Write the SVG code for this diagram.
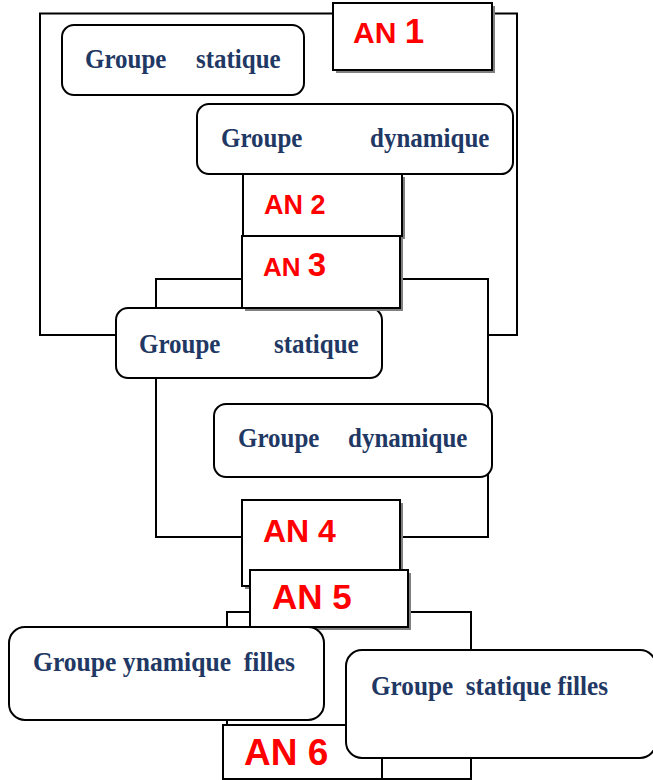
<svg xmlns="http://www.w3.org/2000/svg" width="653" height="780" viewBox="0 0 653 780">
  <style>
    .line { fill: none; stroke: #000; stroke-width: 2; }
    .grp { fill: #fff; stroke: #000; stroke-width: 2; }
    .an { fill: #fff; stroke: #000; stroke-width: 2; }
    .shadow { fill: #808080; }
    .gt { font-family: "Liberation Serif", "Times New Roman", serif; font-weight: bold; font-size: 25px; fill: #1F3864; }
    .at { font-family: "Liberation Sans", Arial, sans-serif; font-weight: bold; fill: #FF0000; }
  </style>
  <rect width="653" height="780" fill="#fff"/>

  <!-- connectors (drawn first so the boxes sit on top) -->
  <g id="connectors">
    <path class="line" d="M116,335 H40 V13.5 H517 V335 H488"/>
    <rect class="line" x="156" y="279" width="332" height="258"/>
    <rect class="line" x="227" y="612" width="244" height="167"/>
  </g>

  <!-- group labels are stretched 10% vertically around their baseline -->
  <g id="groupe-statique-1">
    <rect class="grp" x="62" y="25" width="242" height="70" rx="12"/>
    <g transform="matrix(1 0 0 1.1 0 -6.8)">
      <text class="gt" x="85" y="68">Groupe</text>
      <text class="gt" x="196" y="68">statique</text>
    </g>
  </g>

  <g id="an1">
    <rect class="shadow" x="336" y="6" width="159" height="67"/>
    <rect class="an" x="333" y="3" width="159" height="67"/>
    <text class="at" x="353" y="43"><tspan font-size="30">AN </tspan><tspan font-size="35">1</tspan></text>
  </g>

  <g id="groupe-dynamique-1">
    <rect class="grp" x="197" y="104" width="316" height="70" rx="12"/>
    <g transform="matrix(1 0 0 1.1 0 -14.7)">
      <text class="gt" x="221" y="147">Groupe</text>
      <text class="gt" x="370" y="147">dynamique</text>
    </g>
  </g>

  <g id="an2">
    <rect class="shadow" x="246" y="177" width="159" height="62"/>
    <rect class="an" x="243" y="174" width="159" height="62"/>
    <text class="at" x="264" y="214" font-size="27">AN 2</text>
  </g>

  <g id="groupe-statique-2">
    <rect class="grp" x="116" y="308" width="266" height="70" rx="12"/>
    <g transform="matrix(1 0 0 1.1 0 -35.3)">
      <text class="gt" x="139" y="353">Groupe</text>
      <text class="gt" x="274" y="353">statique</text>
    </g>
  </g>

  <g id="an3">
    <rect class="shadow" x="245" y="239" width="158" height="72"/>
    <rect class="an" x="242" y="236" width="158" height="72"/>
    <text class="at" x="263" y="276"><tspan font-size="26">AN </tspan><tspan font-size="33">3</tspan></text>
  </g>

  <g id="groupe-dynamique-2">
    <rect class="grp" x="214" y="404" width="278" height="73" rx="12"/>
    <g transform="matrix(1 0 0 1.1 0 -44.7)">
      <text class="gt" x="238" y="447">Groupe</text>
      <text class="gt" x="348" y="447">dynamique</text>
    </g>
  </g>

  <g id="an4">
    <rect class="shadow" x="245" y="503" width="158" height="86"/>
    <rect class="an" x="242" y="500" width="158" height="86"/>
    <text class="at" x="263" y="542" font-size="32">AN 4</text>
  </g>

  <g id="an5">
    <rect class="shadow" x="253" y="573" width="158" height="57"/>
    <rect class="an" x="250" y="570" width="158" height="57"/>
    <text class="at" x="272" y="609" font-size="35">AN 5</text>
  </g>

  <g id="groupe-dynamique-filles">
    <rect class="grp" x="9" y="627" width="315" height="93" rx="16"/>
    <text class="gt" x="33" y="671" xml:space="preserve" textLength="262" lengthAdjust="spacingAndGlyphs" transform="matrix(1 0 0 1.1 0 -67.1)">Groupe ynamique  filles</text>
  </g>

  <g id="an6">
    <rect class="an" x="223" y="725" width="159" height="54"/>
    <text class="at" x="244" y="765" font-size="37">AN 6</text>
  </g>

  <g id="groupe-statique-filles">
    <rect class="grp" x="346" y="650" width="310" height="108" rx="16"/>
    <text class="gt" x="371" y="695" xml:space="preserve" textLength="237" lengthAdjust="spacingAndGlyphs" transform="matrix(1 0 0 1.1 0 -69.5)">Groupe  statique filles</text>
  </g>
</svg>
